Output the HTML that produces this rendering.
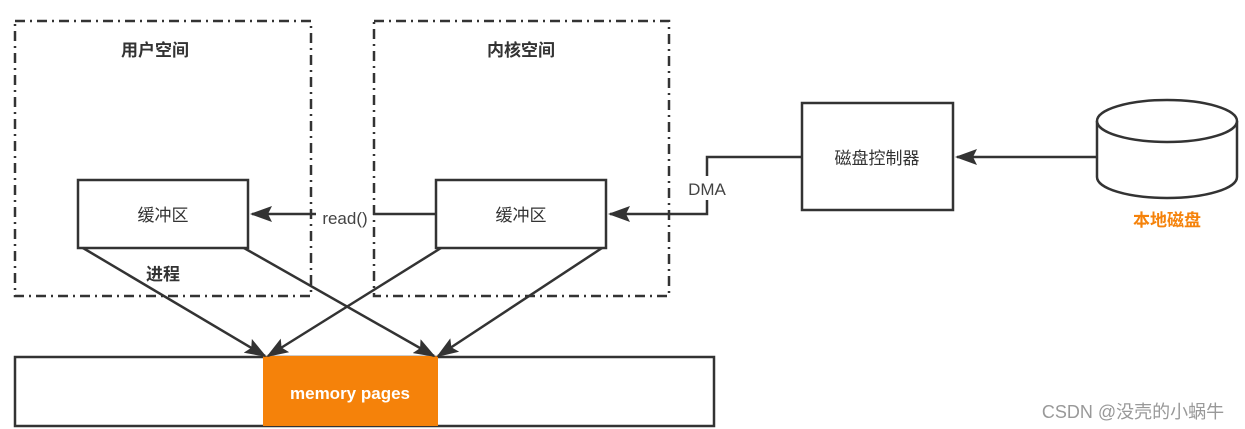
<!DOCTYPE html>
<html><head><meta charset="utf-8"><style>
html,body{margin:0;padding:0;background:#fff;}
svg{display:block;}
text{font-family:"Liberation Sans","Noto Sans CJK SC",sans-serif;}
</style></head><body>
<svg width="1245" height="429" viewBox="0 0 1245 429" xmlns="http://www.w3.org/2000/svg">
<defs>
<marker id="b" markerWidth="22" markerHeight="16" refX="20" refY="8" orient="auto" markerUnits="userSpaceOnUse" viewBox="0 0 22 16">
<path d="M0,0 L22,8 L0,16 L4,8 z" fill="#333"/>
</marker>
</defs>
<g fill="none" stroke="#333" stroke-width="2.5" stroke-dasharray="10,5,2,5">
<rect x="15" y="21" width="296" height="275"/>
<rect x="374" y="21" width="295" height="275"/>
</g>
<text x="155" y="56" font-size="17" font-weight="bold" text-anchor="middle" fill="#333">用户空间</text>
<text x="521" y="56" font-size="17" font-weight="bold" text-anchor="middle" fill="#333">内核空间</text>
<g fill="#fff" stroke="#333" stroke-width="2.5">
<rect x="78" y="180" width="170" height="68"/>
<rect x="436" y="180" width="170" height="68"/>
<rect x="15" y="357" width="699" height="69"/>
<rect x="802" y="103" width="151" height="107"/>
</g>
<rect x="263" y="356" width="175" height="70" fill="#f5820a"/>
<text x="350" y="399" font-size="17" font-weight="bold" text-anchor="middle" fill="#fff">memory pages</text>
<text x="163" y="221" font-size="17" text-anchor="middle" fill="#333">缓冲区</text>
<text x="521" y="221" font-size="17" text-anchor="middle" fill="#333">缓冲区</text>
<text x="877" y="164" font-size="17" text-anchor="middle" fill="#333">磁盘控制器</text>
<text x="163" y="280" font-size="17" font-weight="bold" text-anchor="middle" fill="#333">进程</text>
<g stroke="#333" stroke-width="2.5" fill="none">
<line x1="436" y1="214" x2="373" y2="214"/>
<line x1="316" y1="214" x2="252" y2="214" marker-end="url(#b)"/>
<path d="M802,157 H707 V176"/>
<path d="M707,200 V214 H610" marker-end="url(#b)"/>
<line x1="1098" y1="157" x2="957" y2="157" marker-end="url(#b)"/>
<line x1="83" y1="248" x2="265" y2="356" marker-end="url(#b)"/>
<line x1="244" y1="248" x2="434" y2="356" marker-end="url(#b)"/>
<line x1="441" y1="248" x2="268" y2="356" marker-end="url(#b)"/>
<line x1="602" y1="248" x2="438" y2="356" marker-end="url(#b)"/>
</g>
<text x="345" y="224" font-size="17" text-anchor="middle" fill="#444">read()</text>
<text x="707" y="195" font-size="17" text-anchor="middle" fill="#444">DMA</text>
<g stroke="#333" stroke-width="2.5" fill="#fff">
<path d="M1097,121 V177 A70,21 0 0 0 1237,177 V121"/>
<ellipse cx="1167" cy="121" rx="70" ry="21"/>
</g>
<text x="1167" y="226" font-size="17" font-weight="bold" text-anchor="middle" fill="#f5820a">本地磁盘</text>
<text x="1133" y="418" font-size="18" text-anchor="middle" fill="#999">CSDN @没壳的小蜗牛</text>
</svg>
</body></html>
